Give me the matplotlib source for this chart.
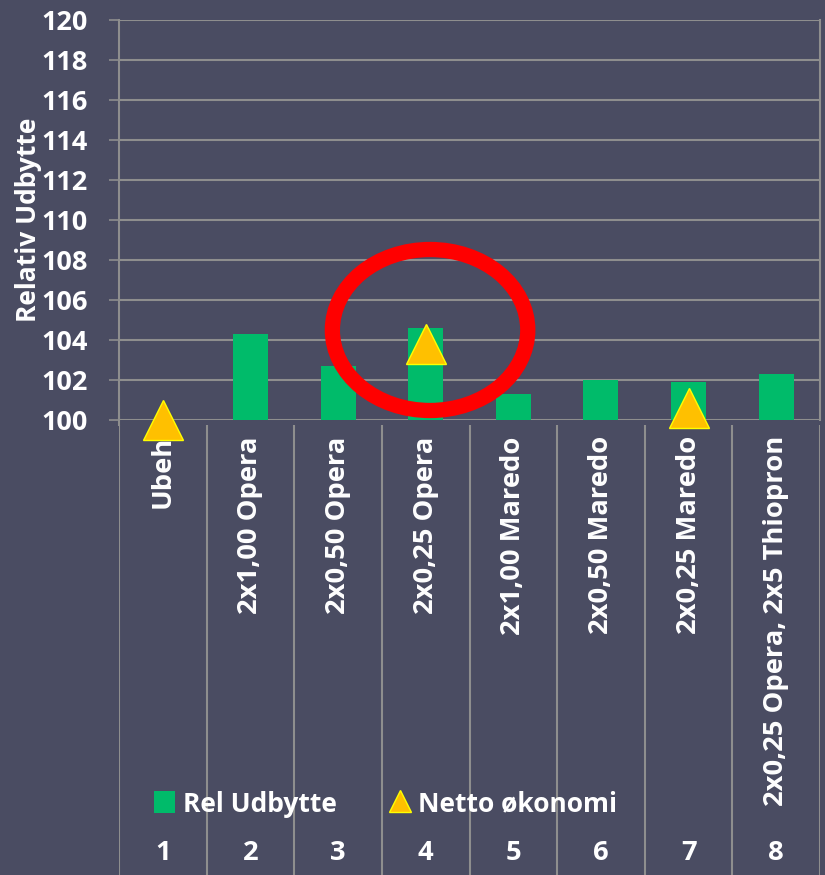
import numpy as np
import matplotlib
matplotlib.use('Agg')
import matplotlib.pyplot as plt
from matplotlib.patches import Ellipse

# data
categories = ['Ubeh', '2x1,00 Opera', '2x0,50 Opera', '2x0,25 Opera',
              '2x1,00 Maredo', '2x0,50 Maredo', '2x0,25 Maredo',
              '2x0,25 Opera, 2x5 Thiopron']
numbers = ['1', '2', '3', '4', '5', '6', '7', '8']
rel_udbytte = [100.0, 104.3, 102.7, 104.6, 101.3, 102.0, 101.9, 102.3]
netto_okonomi = [100.0, np.nan, np.nan, 103.8, np.nan, np.nan, 100.6, np.nan]
yticks = list(range(100, 121, 2))

bg = '#4a4c62'
grid = '#8e8e8e'
green = '#00bb6a'
orange = '#ffc000'

plt.rcParams['font.family'] = ['Open Sans', 'DejaVu Sans']
plt.rcParams['font.weight'] = 'bold'

W, H = 825, 875
fig = plt.figure(figsize=(W / 100, H / 100), dpi=100, facecolor=bg)

x0, x1 = 119, 820
ax = fig.add_axes([x0 / W, 1 - 420 / H, (x1 - x0) / W, 400 / H])
ax.set_facecolor(bg)
x = np.arange(len(categories))

bars = ax.bar(x, rel_udbytte, width=0.4, color=green, zorder=2)
tri, = ax.plot(x, netto_okonomi, linestyle='none', marker='^', markersize=29,
               markerfacecolor=orange, markeredgecolor='#ffff00',
               markeredgewidth=1, clip_on=False, zorder=5)

ax.set_xlim(-0.5, len(categories) - 0.5)
ax.set_ylim(100, 120)
ax.set_yticks(yticks)
ax.set_yticklabels([str(v) for v in yticks], color='white', fontsize=19.5,
                   fontweight='bold')
ax.tick_params(axis='y', length=7.2, color=grid, width=1.2, pad=15)
ax.set_xticks([])
ax.yaxis.grid(True, color=grid, linewidth=1.5, zorder=0)
ax.set_axisbelow(True)
for s in ['top', 'bottom']:
    ax.spines[s].set_visible(False)
for s in ['left', 'right']:
    ax.spines[s].set_color(grid)
    ax.spines[s].set_linewidth(1.5)
ax.set_ylabel('Relativ Udbytte', color='white', fontsize=19,
              fontweight='bold', va='center')
ax.yaxis.set_label_coords(-0.129, 0.5)

# red circle round treatment 4
ax.add_patch(Ellipse((3.05, 104.5), 2.23, 8.05, fill=False, edgecolor='red',
                     linewidth=11, clip_on=False, zorder=4))

# category label area below the axis
ax2 = fig.add_axes([x0 / W, 0.0, (x1 - x0) / W, 1 - 420 / H - 5 / H])
ax2.set_xlim(ax.get_xlim())
ax2.set_ylim(0, 1)
ax2.axis('off')
for b in np.arange(-0.5, len(categories), 1.0):
    ax2.axvline(b, ymin=0.0, ymax=1.0, color=grid, linewidth=1.5)
ax2.plot([-0.5, -0.5], [1, 1.02], color=grid, lw=1.5, clip_on=False)
for i, lab in enumerate(categories):
    ax2.text(x[i], 0.975, lab, rotation=90, ha='center', va='top',
             color='white', fontsize=19.7, fontweight='bold')
    ax2.text(x[i], 0.05, numbers[i], ha='center', va='center',
             color='white', fontsize=19.7, fontweight='bold')

leg = fig.legend([bars, tri], ['Rel Udbytte', 'Netto økonomi'],
                 loc='center left', bbox_to_anchor=(130 / W, 1 - 804 / H),
                 ncol=2, frameon=False, fontsize=19, handlelength=0.8,
                 handleheight=0.9, columnspacing=2.0, handletextpad=0.3)
for t in leg.get_texts():
    t.set_color('white')
    t.set_fontweight('bold')
leg.legend_handles[1].set_markersize(16)

fig.savefig('out.png', dpi=100, facecolor=bg)
